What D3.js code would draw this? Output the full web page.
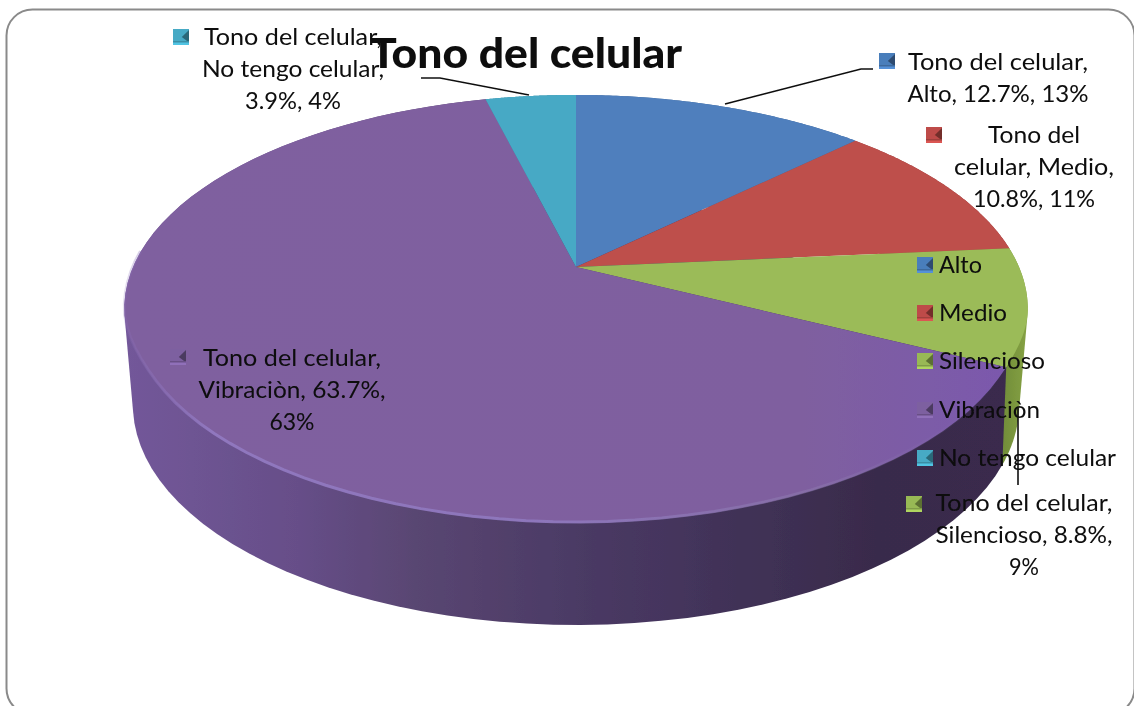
<!DOCTYPE html>
<html><head><meta charset="utf-8">
<script src="https://cdn.jsdelivr.net/npm/d3@7/dist/d3.min.js"></script>
<style>html,body{margin:0;padding:0;background:#fff;overflow:hidden}svg{display:block}
text{font-family:Lato,"Noto Sans",sans-serif;fill:#0a0a0a}</style></head><body>
<script>
const chartTitle = "Tono del celular";
const categories = ["Alto","Medio","Silencioso","Vibraciòn","No tengo celular"];
const values = [12.7,10.8,8.8,63.7,3.9];
const topColors = ["#4f7fbd","#be4f4c","#9bbb59","url(#purpleTop)","#47a9c5"];
const markerColors = ["#4a7ebb","#be4b48","#98b954","#7d60a0","#46aac5"];
const wallColors = ["#3e6596","#963d3a","url(#greenWall)","url(#purpleWall)","#358ba3"];
const labelLines = [
  ["Tono del celular,","Alto, 12.7%, 13%"],
  ["Tono del","celular, Medio,","10.8%, 11%"],
  ["Tono del celular,","Silencioso, 8.8%,","9%"],
  ["Tono del celular,","Vibraciòn, 63.7%,","63%"],
  ["Tono del celular,","No tengo celular,","3.9%, 4%"]
];
const labelWidths = [[180,181],[92,160,122],[177,177,30],[178,187,45],[178,182,96]];
const labelCenters = [[998,70],[1034,143],[1024,511],[292,366],[293,45]];
const labelMarkers = [[879,53],[926,127],[906,496],[170,349],[173,29]];
const legendY = [265,313,361,410,458];
const legendWidths = [43,68,106,101,177];
const leaders = [
  [[725,104],[861,69],[873,69]],
  [[1018,408],[1018,485]],
  [[529,95],[440,78],[421,78]]
];

const W=1134,H=706;
const svg=d3.select("body").append("svg").attr("width",W).attr("height",H);
const defs=svg.append("defs");
function grad(id,stops,x1,x2){
  const g=defs.append("linearGradient").attr("id",id).attr("gradientUnits","userSpaceOnUse")
    .attr("x1",x1).attr("x2",x2).attr("y1",0).attr("y2",0);
  stops.forEach(s=>g.append("stop").attr("offset",s[0]).attr("stop-color",s[1]).attr("stop-opacity",s[2]==null?1:s[2]));
}
grad("purpleTop",[[0,"#7f609f"],[.75,"#7f5f9f"],[1,"#7a58ae"]],122,1028);
grad("purpleWall",[[0,"#73589a"],[.2,"#664e88"],[.33,"#594672"],[.55,"#483862"],[.85,"#392b4b"],[1,"#3a2c4d"]],122,1010);
grad("greenWall",[[0,"#6f8b38"],[1,"#86a244"]],1000,1028);
grad("rim",[[0,"#8a6fb8",.2],[.1,"#927ac2",.9],[.5,"#907ac0",.85],[.8,"#8d7aae",.5],[1,"#7d62aa",0]],122,1000);
defs.append("filter").attr("id","soft").attr("x","-5%").attr("y","-5%").attr("width","110%").attr("height","110%")
  .append("feGaussianBlur").attr("stdDeviation",.7);
defs.append("filter").attr("id","softText").attr("x","-5%").attr("y","-20%").attr("width","110%").attr("height","140%")
  .append("feGaussianBlur").attr("stdDeviation",.35);

// card
svg.append("rect").attr("x",6.5).attr("y",9.5).attr("width",1128).attr("height",705).attr("rx",26)
  .attr("fill","#fff").attr("stroke","#8a8a8a").attr("stroke-width",2);

// perspective projection of the disc
const cx=576,cy=267,A=205.8,c=0.196,ey=309;
function rimD(v){ // the front rim sits slightly inside the silhouette (bevel)
  const t=Math.max(0,Math.min(1,(-0.2-v)/0.3));
  return 443-5*t*t*(3-2*t);
}
function topPt(a){const u=Math.sin(a),v=Math.cos(a),k=1+c*v;return [cx+rimD(v)*u/k,cy-A*v/k];}
function botPt(a){const u=Math.sin(a),v=Math.cos(a),k=1+c*v;
  return [cx+434.5*u/k,405+(cy-A*v/k-ey)*1.028];}
const arcSamples=(a0,a1)=>d3.range(0,81).map(i=>a0+(a1-a0)*i/80);
const line=d3.line();
const slices=d3.pie().sort(null).value(d=>d)(values);

const gPie=svg.append("g").attr("filter","url(#soft)");
const gWall=gPie.append("g"),gTop=gPie.append("g");
slices.forEach((s,i)=>{
  const as=arcSamples(s.startAngle,s.endAngle);
  const hull=d3.polygonHull(as.map(topPt).concat(as.map(botPt)));
  gWall.append("path").attr("fill",wallColors[i]).attr("d",line(hull)+"Z");
});
slices.forEach((s,i)=>{
  const as=arcSamples(s.startAngle,s.endAngle);
  gTop.append("path").attr("fill",topColors[i])
    .attr("d",line([[cx,cy]].concat(as.map(topPt)))+"Z");
});
// bevel highlight along the front of the large slice
const big=slices[3];
gTop.append("path").attr("fill","none").attr("stroke","url(#rim)").attr("stroke-width",3)
  .attr("d",line(arcSamples(big.startAngle,big.endAngle).filter(a=>a<Math.PI*1.5+.1).map(a=>{
    const p=topPt(a);return [p[0],p[1]-1];})));

const gFront=svg.append("g").attr("filter","url(#softText)");
// leader lines
gFront.append("g").selectAll("path").data(leaders).join("path")
  .attr("d",d=>line(d)).attr("fill","none").attr("stroke","#111").attr("stroke-width",1.6);

function marker(g,x,y,col){
  const s=16,m=g.append("g").attr("transform",`translate(${x},${y})`);
  const base=d3.color(col);
  m.append("rect").attr("width",s).attr("height",s).attr("fill",base);
  m.append("path").attr("d",`M${s},1L${s*.55},${s*.5}L${s},${s*.85}Z`).attr("fill",base.darker(1.4));
  m.append("rect").attr("y",s*.75).attr("width",s).attr("height",s*.1).attr("fill",base.darker(.5));
  m.append("rect").attr("y",s-2.4).attr("width",s).attr("height",2.4).attr("fill",base.brighter(.4));
}

// data labels
const fs=22.5, lh=32;
const gLab=gFront.append("g");
labelLines.forEach((ls,i)=>{
  marker(gLab,labelMarkers[i][0],labelMarkers[i][1],markerColors[i]);
  ls.forEach((t,j)=>gLab.append("text").attr("x",labelCenters[i][0]).attr("y",labelCenters[i][1]+j*lh)
    .attr("text-anchor","middle").attr("font-size",fs)
    .attr("textLength",labelWidths[i][j]).attr("lengthAdjust","spacingAndGlyphs").text(t));
});

// legend
const gLeg=gFront.append("g");
categories.forEach((t,i)=>{
  marker(gLeg,917,legendY[i]-8,markerColors[i]);
  gLeg.append("text").attr("x",939).attr("y",legendY[i]+8).attr("font-size",fs)
    .attr("textLength",legendWidths[i]).attr("lengthAdjust","spacingAndGlyphs").text(t);
});

// title
gFront.append("text").attr("x",526).attr("y",68).attr("text-anchor","middle")
  .attr("font-size",41).attr("font-weight",900).attr("textLength",312).attr("lengthAdjust","spacingAndGlyphs").text(chartTitle);
</script></body></html>
